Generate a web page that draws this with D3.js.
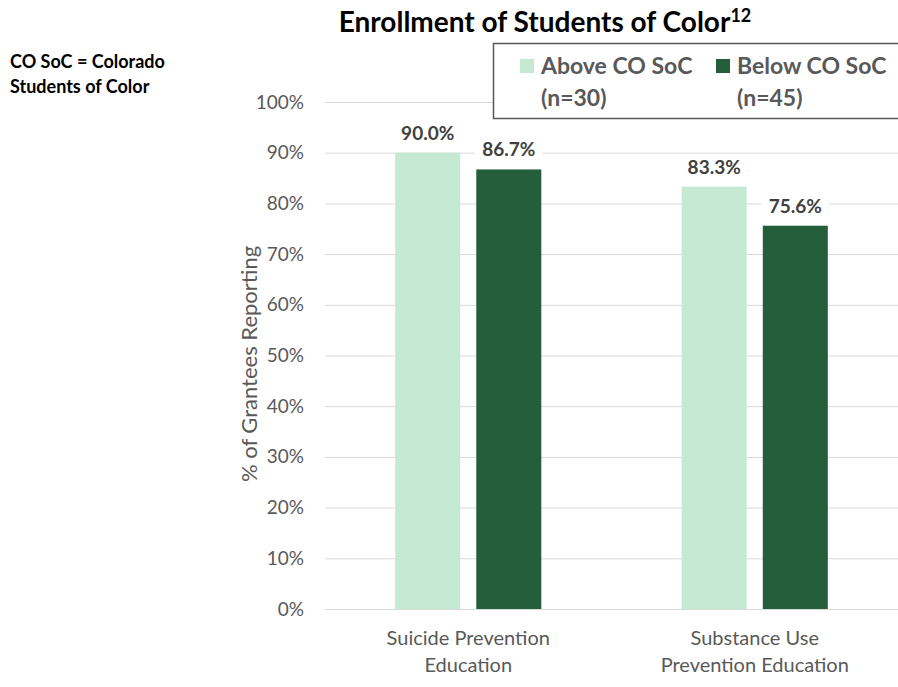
<!DOCTYPE html>
<html><head><meta charset="utf-8">
<script src="https://cdn.jsdelivr.net/npm/d3@7"></script>
<style>body{margin:0;background:#fff}svg{display:block}text{font-family:Lato,"Open Sans",sans-serif}</style>
</head><body><svg id="c" width="898" height="687"></svg>
<script>
const categories = [["Suicide Prevention","Education"],["Substance Use","Prevention Education"]];
const categoryKeys = ["Suicide Prevention Education","Substance Use Prevention Education"];
const seriesNames = ["Above CO SoC","Below CO SoC"];
const seriesN = ["(n=30)","(n=45)"];
const above = [90.0, 83.3];
const below = [86.7, 75.6];
const yTicks = [0,10,20,30,40,50,60,70,80,90,100];
const colors = ["#c6e9d4","#245e3a"];

const svg = d3.select("#c");
const y = d3.scaleLinear().domain([0,100]).range([609,102]);
const x0 = d3.scaleBand().domain(categoryKeys).range([325,898]).paddingInner(0.49).paddingOuter(0.245);
const x1 = d3.scaleBand().domain(seriesNames).range([0,x0.bandwidth()]).paddingInner(0.198).paddingOuter(0);

// gridlines
svg.append("g").selectAll("line").data(yTicks).join("line")
  .attr("x1",325).attr("x2",898).attr("y1",d=>y(d)+0.5).attr("y2",d=>y(d)+0.5)
  .attr("stroke","#d9d9d9").attr("stroke-width",1);

// y axis labels
const yAxis = d3.axisLeft(y).tickValues(yTicks).tickFormat(d=>d+"%").tickSize(0).tickPadding(0);
const ga = svg.append("g").attr("transform","translate(304,0)").call(yAxis);
ga.select(".domain").remove();
ga.selectAll("text").attr("font-size",19).attr("fill","#595959").style("font-family","Lato,sans-serif");

// bars
const data = categoryKeys.map((k,i)=>({k, vals:[{s:seriesNames[0],v:above[i],c:colors[0]},{s:seriesNames[1],v:below[i],c:colors[1]}]}));
const groups = svg.append("g").selectAll("g").data(data).join("g")
  .attr("transform",d=>`translate(${x0(d.k)},0)`);
groups.selectAll("rect").data(d=>d.vals).join("rect")
  .attr("x",d=>x1(d.s)).attr("width",x1.bandwidth())
  .attr("y",d=>y(d.v)).attr("height",d=>y(0)-y(d.v)).attr("fill",d=>d.c);

// data labels with white background
const lbl = groups.selectAll("g.lbl").data(d=>d.vals).join("g").attr("class","lbl");
lbl.append("rect").attr("x",d=>x1(d.s)+x1.bandwidth()/2-34).attr("width",68)
  .attr("y",d=>y(d.v)-31).attr("height",25).attr("fill","#fff");
lbl.append("text").attr("x",d=>x1(d.s)+x1.bandwidth()/2).attr("y",d=>y(d.v)-13)
  .attr("text-anchor","middle").attr("font-size",19).attr("font-weight","bold").attr("fill","#404040")
  .text(d=>d.v.toFixed(1)+"%");

// x axis labels
categoryKeys.forEach((k,i)=>{
  const t = svg.append("text").attr("text-anchor","middle").attr("font-size",20).attr("fill","#595959");
  categories[i].forEach((line,j)=>{
    t.append("tspan").attr("x",x0(k)+x0.bandwidth()/2).attr("y",645+j*27).text(line);
  });
});

// y axis title
svg.append("text").attr("transform","translate(257,364) rotate(-90)").attr("text-anchor","middle")
  .attr("font-size",22).attr("fill","#595959").text("% of Grantees Reporting");

// title
const title = svg.append("text").attr("x",545).attr("y",32).attr("text-anchor","middle")
  .attr("font-size",28).attr("font-weight","bold").attr("fill","#000");
title.append("tspan").text("Enrollment of Students of Color");
title.append("tspan").attr("font-size",18).attr("dy",-10).text("12");

// left note
const note = svg.append("text").attr("font-size",18).attr("font-weight","bold").attr("fill","#000");
note.append("tspan").attr("x",10).attr("y",68).text("CO SoC = Colorado");
note.append("tspan").attr("x",10).attr("y",93).text("Students of Color");

// legend
svg.append("rect").attr("x",493.5).attr("y",43.5).attr("width",420).attr("height",75)
  .attr("fill","#fff").attr("stroke","#595959").attr("stroke-width",1.5);
const legX = [520,716];
seriesNames.forEach((s,i)=>{
  svg.append("rect").attr("x",legX[i]).attr("y",59).attr("width",14).attr("height",14).attr("fill",colors[i]);
  const t = svg.append("text").attr("font-size",23).attr("font-weight","bold").attr("fill","#595959");
  t.append("tspan").attr("x",legX[i]+21).attr("y",74).text(s);
  t.append("tspan").attr("x",legX[i]+21).attr("y",106).text(seriesN[i]);
});
</script></body></html>
